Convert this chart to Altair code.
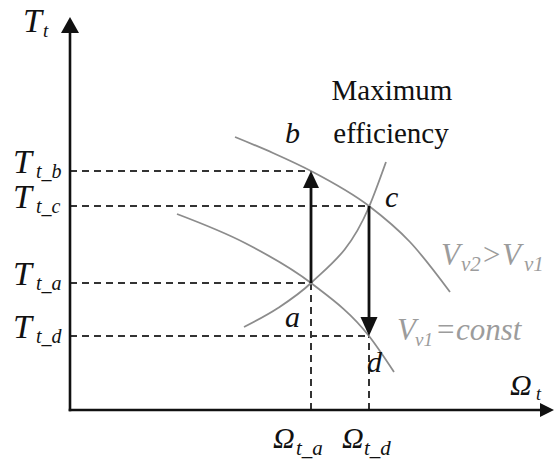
import altair as alt
import pandas as pd

# Operating points on the torque / speed plane
point_names = ["a", "b", "c", "d"]
omega_pts = [4.82, 4.82, 5.98, 5.98]
torque_pts = [2.54, 4.78, 4.08, 1.48]

# Characteristic curves
v2_omega = [3.30, 4.06, 4.82, 5.98, 6.80, 7.60]
v2_torque = [5.46, 5.14, 4.78, 4.08, 3.36, 2.36]
v1_omega = [2.14, 3.50, 4.82, 5.98, 6.48]
v1_torque = [3.92, 3.34, 2.54, 1.48, 0.76]
eff_omega = [3.48, 4.16, 4.82, 5.98, 6.32]
eff_torque = [1.66, 2.04, 2.54, 4.06, 4.96]

# Tick labels (subscripts of T_t and Omega_t)
torque_tick_pts = ["b", "c", "a", "d"]
omega_tick_pts = ["a", "d"]

# Axis extents
x_axis_end = 9.68
y_axis_end = 7.86

PX = 50.0  # pixels per data unit
W, H = 556, 466
XS = alt.Scale(domain=[-1.4, -1.4 + W / PX], nice=False, zero=False)
YS = alt.Scale(domain=[8.2 - H / PX, 8.2], nice=False, zero=False)

P = {n: (o, t) for n, o, t in zip(point_names, omega_pts, torque_pts)}

BLACK = "#111111"
GRAY_CURVE = "#8c8c8c"
GRAY_TEXT = "#9c9c9c"
SERIF = "Liberation Serif"


def xq(field="x"):
    return alt.X(f"{field}:Q", scale=XS, axis=None)


def yq(field="y"):
    return alt.Y(f"{field}:Q", scale=YS, axis=None)


# Axes
axes_df = pd.DataFrame([
    {"x": 0, "y": 0, "x2": 0, "y2": y_axis_end - 0.22},
    {"x": 0, "y": 0, "x2": x_axis_end - 0.2, "y2": 0},
])
axes = alt.Chart(axes_df).mark_rule(color=BLACK, strokeWidth=2.6, strokeCap="square").encode(
    x=xq(), y=yq(), x2="x2:Q", y2="y2:Q"
)

# Dashed guides from the points to the axes
guides = []
for n in torque_tick_pts:
    o, t = P[n]
    guides.append({"x": 0, "y": t, "x2": o, "y2": t})
for n in omega_tick_pts:
    o, t = P[n]
    guides.append({"x": o, "y": 0, "x2": o, "y2": t})
guides_df = pd.DataFrame(guides)
dashed = alt.Chart(guides_df).mark_rule(color="#333333", strokeWidth=2, strokeDash=[7, 5]).encode(
    x=xq(), y=yq(), x2="x2:Q", y2="y2:Q"
)

# Curves
curve_rows = []
for name, xs, ys in [("v2", v2_omega, v2_torque), ("v1", v1_omega, v1_torque), ("eff", eff_omega, eff_torque)]:
    for xv, yv in zip(xs, ys):
        curve_rows.append({"curve": name, "x": xv, "y": yv})
curves_df = pd.DataFrame(curve_rows)
curves = alt.Chart(curves_df).mark_line(color=GRAY_CURVE, strokeWidth=1.8, interpolate="monotone").encode(
    x=xq(), y=yq(), detail="curve:N", order="x:Q"
)

# Transition arrows a -> b and c -> d
shafts_df = pd.DataFrame([
    {"x": P["a"][0], "y": P["a"][1], "x2": P["b"][0], "y2": P["b"][1] - 0.2},
    {"x": P["c"][0], "y": P["c"][1], "x2": P["d"][0], "y2": P["d"][1] + 0.2},
])
shafts = alt.Chart(shafts_df).mark_rule(color=BLACK, strokeWidth=2.8).encode(
    x=xq(), y=yq(), x2="x2:Q", y2="y2:Q"
)

UP = "M0,0L8,17L-8,17Z"
UP_AXIS = "M0,0L9,16L-9,16Z"
DOWN = "M0,0L8.5,-19L-8.5,-19Z"
RIGHT = "M0,0L-14,-7L-14,7Z"


def head(df, shape):
    return alt.Chart(pd.DataFrame(df)).mark_point(
        shape=shape, size=4, filled=True, opacity=1, color=BLACK, strokeWidth=0
    ).encode(x=xq(), y=yq())


heads = [
    head([{"x": 0, "y": y_axis_end}], UP_AXIS),
    head([{"x": x_axis_end, "y": 0}], RIGHT),
    head([{"x": P["b"][0], "y": P["b"][1]}], UP),
    head([{"x": P["d"][0], "y": P["d"][1]}], DOWN),
]

# Text fragments: (text, anchor_x, anchor_y, dx_px, dy_px, size, color)
frags = [
    ("T", 0, y_axis_end, -47, 15, 34, BLACK),
    ("t", 0, y_axis_end, -27, 20, 19, BLACK),
    ("Ω", x_axis_end, 0, -44, -15, 30, BLACK),
    ("t", x_axis_end, 0, -18, -10, 18, BLACK),
]
for n in torque_tick_pts:
    t = P[n][1]
    frags.append(("T", 0, t, -57, 2, 34, BLACK))
    frags.append((f"t_{n}", 0, t, -34, 7, 20, BLACK))
omega_off = {"a": (-38, -15), "d": (-27, -5)}
for n in omega_tick_pts:
    o = P[n][0]
    big, small = omega_off[n]
    frags.append(("Ω", o, 0, big, 38, 30, BLACK))
    frags.append((f"t_{n}", o, 0, small, 45, 21, BLACK))
letter_off = {"a": (-26, 44), "b": (-26, -28), "c": (16, 1), "d": (-2, 36)}
for n in point_names:
    o, t = P[n]
    dx, dy = letter_off[n]
    frags.append((n, o, t, dx, dy, 30, BLACK))

v2_end = (v2_omega[-1], v2_torque[-1])
v1_end = (v1_omega[-1], v1_torque[-1])
frags += [
    ("V", v2_end[0], v2_end[1], -9, -27, 31, GRAY_TEXT),
    ("v2", v2_end[0], v2_end[1], 11, -21, 21, GRAY_TEXT),
    (">", v2_end[0], v2_end[1], 31, -27, 31, GRAY_TEXT),
    ("V", v2_end[0], v2_end[1], 52, -27, 31, GRAY_TEXT),
    ("v1", v2_end[0], v2_end[1], 74, -21, 21, GRAY_TEXT),
    ("V", v1_end[0], v1_end[1], 3, -32, 31, GRAY_TEXT),
    ("v1", v1_end[0], v1_end[1], 21, -26, 19, GRAY_TEXT),
    ("=const", v1_end[0], v1_end[1], 41, -32, 31, GRAY_TEXT),
]

text_df = pd.DataFrame([
    {"label": s, "x": ax + dx / PX, "y": ay - dy / PX, "fs": sz, "col": c}
    for s, ax, ay, dx, dy, sz, c in frags
])
italic_text = alt.Chart(text_df).mark_text(
    align="left", baseline="alphabetic", font=SERIF, fontStyle="italic"
).encode(
    x=xq(), y=yq(), text="label:N",
    size=alt.Size("fs:Q", scale=None, legend=None),
    color=alt.Color("col:N", scale=None, legend=None),
)

eff_end = (eff_omega[-1], eff_torque[-1])
title_df = pd.DataFrame([
    {"label": "Maximum", "x": eff_end[0] + 6 / PX, "y": eff_end[1] + 62 / PX},
    {"label": "efficiency", "x": eff_end[0] + 5 / PX, "y": eff_end[1] + 19 / PX},
])
eff_text = alt.Chart(title_df).mark_text(
    align="center", baseline="alphabetic", font=SERIF, fontSize=29, fontStyle="normal", color=BLACK
).encode(x=xq(), y=yq(), text="label:N")

chart = alt.layer(
    dashed, curves, axes, shafts, *heads, italic_text, eff_text
).properties(
    width=W, height=H, autosize=alt.AutoSizeParams(type="none"), padding=0, background="white"
).configure_view(stroke=None).configure_text(font=SERIF)

chart.save("out.html", embed_options={"renderer": "svg", "actions": False})
